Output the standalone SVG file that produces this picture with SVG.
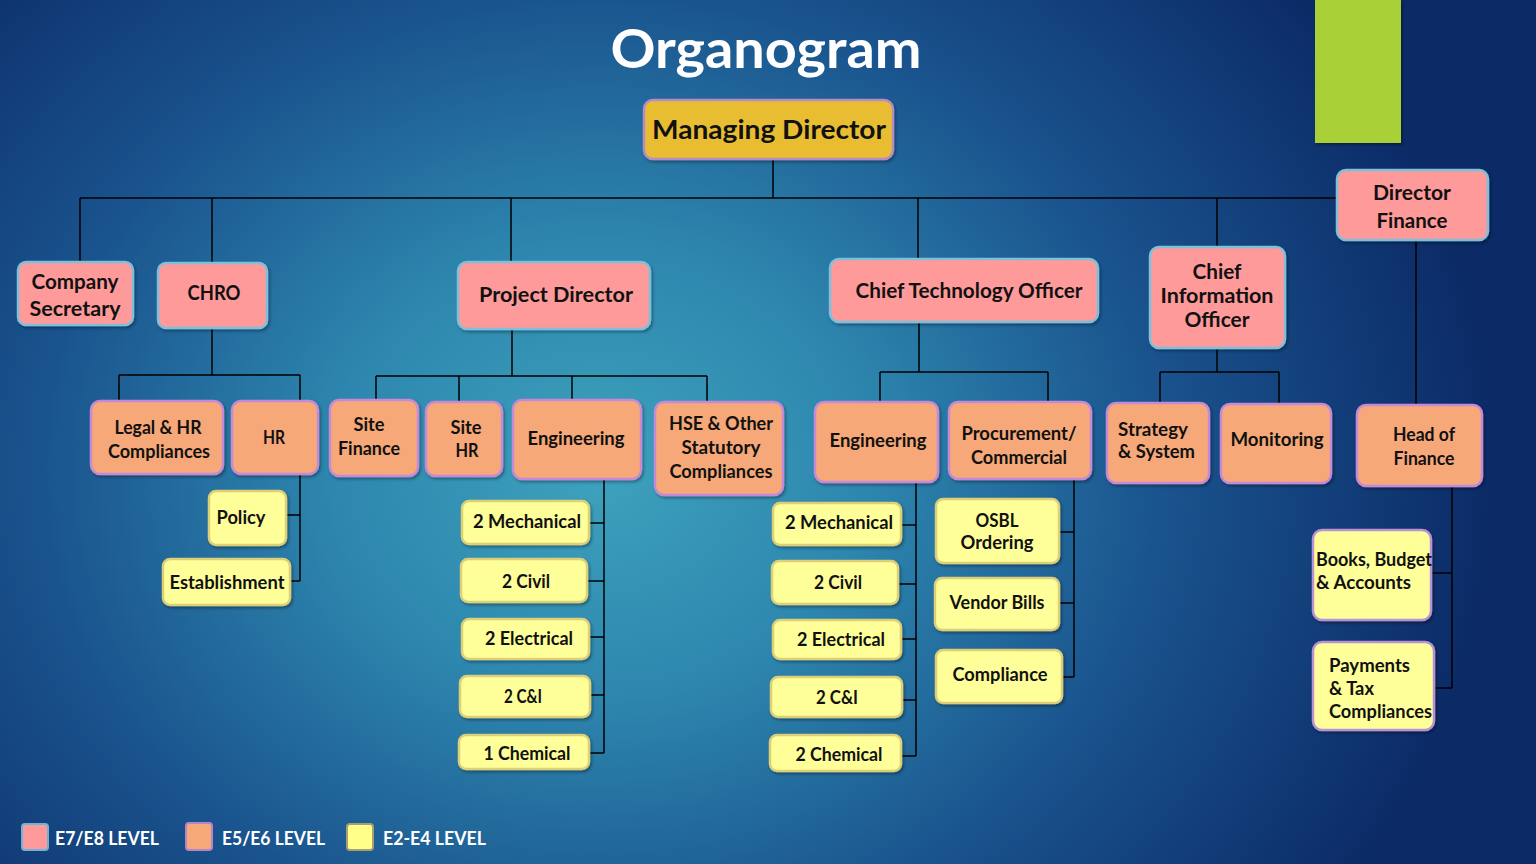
<svg xmlns="http://www.w3.org/2000/svg" width="1536" height="864" viewBox="0 0 1536 864">
<defs>
<radialGradient id="bg" gradientUnits="userSpaceOnUse" cx="600" cy="470" r="900" gradientTransform="translate(600 470) scale(1 0.85) translate(-600 -470)">
<stop offset="0" stop-color="#3ea2bd"/>
<stop offset="0.3" stop-color="#2d86ae"/>
<stop offset="0.62" stop-color="#1a548e"/>
<stop offset="1" stop-color="#0b2a66"/>
</radialGradient>
<filter id="sh" x="-10%" y="-10%" width="130%" height="130%">
<feDropShadow dx="1.5" dy="2" stdDeviation="1.5" flood-color="#000" flood-opacity="0.35"/>
</filter>
</defs>
<style>
text{font-family:Lato,"Open Sans","Liberation Sans",sans-serif;font-weight:bold;fill:#111;text-anchor:middle}
.t19{font-size:19px}
.t21{font-size:21px}
.l{text-anchor:start}
.p{fill:#ff9a9a;stroke:#7ec0dc;stroke-width:2.5;filter:url(#sh)}
.o{fill:#f6a878;stroke:#c58ad6;stroke-width:2.5;filter:url(#sh)}
.y{fill:#ffff99;stroke:#dccf78;stroke-width:2.5;filter:url(#sh)}
.yl{fill:#ffff99;stroke:#b792d4;stroke-width:2.5;filter:url(#sh)}
.md{fill:#e9bd30;stroke:#b68cc4;stroke-width:2.5;filter:url(#sh)}
.c path{fill:none;stroke:#000;stroke-width:1.5}
.leg{fill:#fff;font-size:19px;text-anchor:start}
</style>
<rect width="1536" height="864" fill="url(#bg)"/>
<rect x="1315" y="0" width="86" height="143" fill="#aad038" filter="url(#sh)"/>
<text x="766" y="68" style="fill:#fff;font-size:54px" textLength="311" lengthAdjust="spacingAndGlyphs">Organogram</text>

<g class="c" id="connectors">
<path d="M773 159V198M80 198H1337M80 198V262M212 198V263M511 198V262M918 198V259M1217 198V247"/>
<path d="M212 328V375M119 375H300M119 375V401M300 375V401"/>
<path d="M300 474V581M286 515H300M290 581H300"/>
<path d="M512 329V376M376 376H707M376 376V400M459 376V402M572 376V400M707 376V402"/>
<path d="M604 479V753M589 523H604M587 581H604M589 637H604M590 695H604M589 753H604"/>
<path d="M919 322V372M880 372H1048M880 372V402M1048 372V402"/>
<path d="M916 482V756M901 525H916M898 584H916M901 639H916M902 700H916M901 756H916"/>
<path d="M1074 479V677M1059 532H1074M1059 603H1074M1062 677H1074"/>
<path d="M1217 348V372M1160 372H1279M1160 372V403M1279 372V404"/>
<path d="M1416 240V405M1452 486V688M1431 573H1452M1434 688H1452"/>
</g>

<g id="md"><rect class="md" x="644" y="100" width="249" height="59" rx="9"/><text x="769" y="139" style="font-size:27px" textLength="234" lengthAdjust="spacingAndGlyphs">Managing Director</text></g>

<g id="company-secretary"><rect class="p" x="18" y="262" width="115" height="63" rx="8"/><text class="t21" x="75" y="289" textLength="87" lengthAdjust="spacingAndGlyphs">Company</text><text class="t21" x="75" y="316" textLength="91" lengthAdjust="spacingAndGlyphs">Secretary</text></g>
<g id="chro"><rect class="p" x="158" y="263" width="109" height="65" rx="8"/><text class="t21" x="214" y="300" textLength="53" lengthAdjust="spacingAndGlyphs">CHRO</text></g>
<g id="project-director"><rect class="p" x="458" y="262" width="192" height="67" rx="9"/><text class="t21" x="556" y="302" textLength="154" lengthAdjust="spacingAndGlyphs">Project Director</text></g>
<g id="cto"><rect class="p" x="830" y="259" width="268" height="63" rx="9"/><text class="t21" x="969" y="298" textLength="227" lengthAdjust="spacingAndGlyphs">Chief Technology Officer</text></g>
<g id="cio"><rect class="p" x="1150" y="247" width="135" height="101" rx="9"/><text class="t21" x="1217" y="279" textLength="49" lengthAdjust="spacingAndGlyphs">Chief</text><text class="t21" x="1217" y="303" textLength="113" lengthAdjust="spacingAndGlyphs">Information</text><text class="t21" x="1217" y="327" textLength="65" lengthAdjust="spacingAndGlyphs">Officer</text></g>
<g id="director-finance"><rect class="p" x="1337" y="170" width="151" height="70" rx="9"/><text class="t21" x="1412" y="200" textLength="78" lengthAdjust="spacingAndGlyphs">Director</text><text class="t21" x="1412" y="228" textLength="71" lengthAdjust="spacingAndGlyphs">Finance</text></g>

<g id="legal-hr"><rect class="o" x="91" y="401" width="132" height="73" rx="9"/><text class="t19" x="158" y="434" textLength="87" lengthAdjust="spacingAndGlyphs">Legal &amp; HR</text><text class="t19" x="159" y="458" textLength="102" lengthAdjust="spacingAndGlyphs">Compliances</text></g>
<g id="hr"><rect class="o" x="232" y="401" width="86" height="73" rx="9"/><text class="t19" x="274" y="444" textLength="22" lengthAdjust="spacingAndGlyphs">HR</text></g>
<g id="site-finance"><rect class="o" x="330" y="400" width="88" height="76" rx="9"/><text class="t19" x="369" y="431" textLength="31" lengthAdjust="spacingAndGlyphs">Site</text><text class="t19" x="369" y="455" textLength="62" lengthAdjust="spacingAndGlyphs">Finance</text></g>
<g id="site-hr"><rect class="o" x="426" y="402" width="76" height="74" rx="9"/><text class="t19" x="466" y="434" textLength="31" lengthAdjust="spacingAndGlyphs">Site</text><text class="t19" x="467" y="457" textLength="23" lengthAdjust="spacingAndGlyphs">HR</text></g>
<g id="pd-engineering"><rect class="o" x="513" y="400" width="128" height="79" rx="9"/><text class="t19" x="576" y="445" textLength="97" lengthAdjust="spacingAndGlyphs">Engineering</text></g>
<g id="hse"><rect class="o" x="655" y="402" width="128" height="93" rx="9"/><text class="t19" x="721" y="430" textLength="104" lengthAdjust="spacingAndGlyphs">HSE &amp; Other</text><text class="t19" x="721" y="454" textLength="79" lengthAdjust="spacingAndGlyphs">Statutory</text><text class="t19" x="721" y="478" textLength="103" lengthAdjust="spacingAndGlyphs">Compliances</text></g>
<g id="cto-engineering"><rect class="o" x="815" y="402" width="123" height="80" rx="9"/><text class="t19" x="878" y="447" textLength="97" lengthAdjust="spacingAndGlyphs">Engineering</text></g>
<g id="procurement"><rect class="o" x="949" y="402" width="142" height="77" rx="9"/><text class="t19" x="1019" y="440" textLength="115" lengthAdjust="spacingAndGlyphs">Procurement/</text><text class="t19" x="1019" y="464" textLength="96" lengthAdjust="spacingAndGlyphs">Commercial</text></g>
<g id="strategy"><rect class="o" x="1107" y="403" width="102" height="80" rx="9"/><text class="t19 l" x="1118" y="436" textLength="70" lengthAdjust="spacingAndGlyphs">Strategy</text><text class="t19 l" x="1118" y="458" textLength="77" lengthAdjust="spacingAndGlyphs">&amp; System</text></g>
<g id="monitoring"><rect class="o" x="1221" y="404" width="110" height="79" rx="9"/><text class="t19" x="1277" y="446" textLength="93" lengthAdjust="spacingAndGlyphs">Monitoring</text></g>
<g id="head-finance"><rect class="o" x="1357" y="405" width="125" height="81" rx="9"/><text class="t19" x="1424" y="441" textLength="62" lengthAdjust="spacingAndGlyphs">Head of</text><text class="t19" x="1424" y="465" textLength="61" lengthAdjust="spacingAndGlyphs">Finance</text></g>

<g id="policy"><rect class="y" x="209" y="491" width="77" height="54" rx="7"/><text class="t19" x="241" y="524" textLength="49" lengthAdjust="spacingAndGlyphs">Policy</text></g>
<g id="establishment"><rect class="y" x="163" y="559" width="127" height="46" rx="7"/><text class="t19" x="227" y="589" textLength="115" lengthAdjust="spacingAndGlyphs">Establishment</text></g>

<g id="pd-mech"><rect class="y" x="462" y="501" width="127" height="43" rx="7"/><text class="t19" x="527" y="528" textLength="108" lengthAdjust="spacingAndGlyphs">2 Mechanical</text></g>
<g id="pd-civil"><rect class="y" x="461" y="559" width="126" height="43" rx="7"/><text class="t19" x="526" y="588" textLength="48" lengthAdjust="spacingAndGlyphs">2 Civil</text></g>
<g id="pd-elec"><rect class="y" x="462" y="619" width="127" height="40" rx="7"/><text class="t19" x="529" y="645" textLength="88" lengthAdjust="spacingAndGlyphs">2 Electrical</text></g>
<g id="pd-ci"><rect class="y" x="460" y="676" width="130" height="41" rx="7"/><text class="t19" x="523" y="703" textLength="38" lengthAdjust="spacingAndGlyphs">2 C&amp;I</text></g>
<g id="pd-chem"><rect class="y" x="459" y="735" width="130" height="34" rx="7"/><text class="t19" x="527" y="760" textLength="87" lengthAdjust="spacingAndGlyphs">1 Chemical</text></g>

<g id="cto-mech"><rect class="y" x="773" y="503" width="128" height="42" rx="7"/><text class="t19" x="839" y="529" textLength="108" lengthAdjust="spacingAndGlyphs">2 Mechanical</text></g>
<g id="cto-civil"><rect class="y" x="772" y="561" width="126" height="43" rx="7"/><text class="t19" x="838" y="589" textLength="48" lengthAdjust="spacingAndGlyphs">2 Civil</text></g>
<g id="cto-elec"><rect class="y" x="773" y="620" width="128" height="39" rx="7"/><text class="t19" x="841" y="646" textLength="88" lengthAdjust="spacingAndGlyphs">2 Electrical</text></g>
<g id="cto-ci"><rect class="y" x="771" y="677" width="131" height="40" rx="7"/><text class="t19" x="837" y="704" textLength="42" lengthAdjust="spacingAndGlyphs">2 C&amp;I</text></g>
<g id="cto-chem"><rect class="y" x="770" y="735" width="131" height="36" rx="7"/><text class="t19" x="839" y="761" textLength="87" lengthAdjust="spacingAndGlyphs">2 Chemical</text></g>

<g id="osbl"><rect class="y" x="936" y="499" width="123" height="64" rx="7"/><text class="t19" x="997" y="527" textLength="43" lengthAdjust="spacingAndGlyphs">OSBL</text><text class="t19" x="997" y="549" textLength="73" lengthAdjust="spacingAndGlyphs">Ordering</text></g>
<g id="vendor-bills"><rect class="y" x="935" y="578" width="124" height="52" rx="7"/><text class="t19" x="997" y="609" textLength="95" lengthAdjust="spacingAndGlyphs">Vendor Bills</text></g>
<g id="compliance"><rect class="y" x="936" y="650" width="126" height="53" rx="7"/><text class="t19" x="1000" y="681" textLength="95" lengthAdjust="spacingAndGlyphs">Compliance</text></g>

<g id="books"><rect class="yl" x="1313" y="530" width="118" height="90" rx="9"/><text class="t19 l" x="1316" y="566" textLength="116" lengthAdjust="spacingAndGlyphs">Books, Budget</text><text class="t19 l" x="1316" y="589" textLength="95" lengthAdjust="spacingAndGlyphs">&amp; Accounts</text></g>
<g id="payments"><rect class="yl" x="1313" y="642" width="121" height="88" rx="9"/><text class="t19 l" x="1329" y="672" textLength="81" lengthAdjust="spacingAndGlyphs">Payments</text><text class="t19 l" x="1329" y="695" textLength="45" lengthAdjust="spacingAndGlyphs">&amp; Tax</text><text class="t19 l" x="1329" y="718" textLength="103" lengthAdjust="spacingAndGlyphs">Compliances</text></g>

<g id="legend">
<rect x="22" y="824" width="26" height="26" rx="3" fill="#ff9a9a" stroke="#6fb4d8" stroke-width="2"/>
<text class="leg" x="55" y="845" textLength="104" lengthAdjust="spacingAndGlyphs">E7/E8 LEVEL</text>
<rect x="186" y="823" width="26" height="27" rx="3" fill="#f6a878" stroke="#b585c8" stroke-width="2"/>
<text class="leg" x="222" y="845" textLength="103" lengthAdjust="spacingAndGlyphs">E5/E6 LEVEL</text>
<rect x="347" y="824" width="26" height="26" rx="3" fill="#ffff8a" stroke="#a8a070" stroke-width="2"/>
<text class="leg" x="383" y="845" textLength="103" lengthAdjust="spacingAndGlyphs">E2-E4 LEVEL</text>
</g>
</svg>
